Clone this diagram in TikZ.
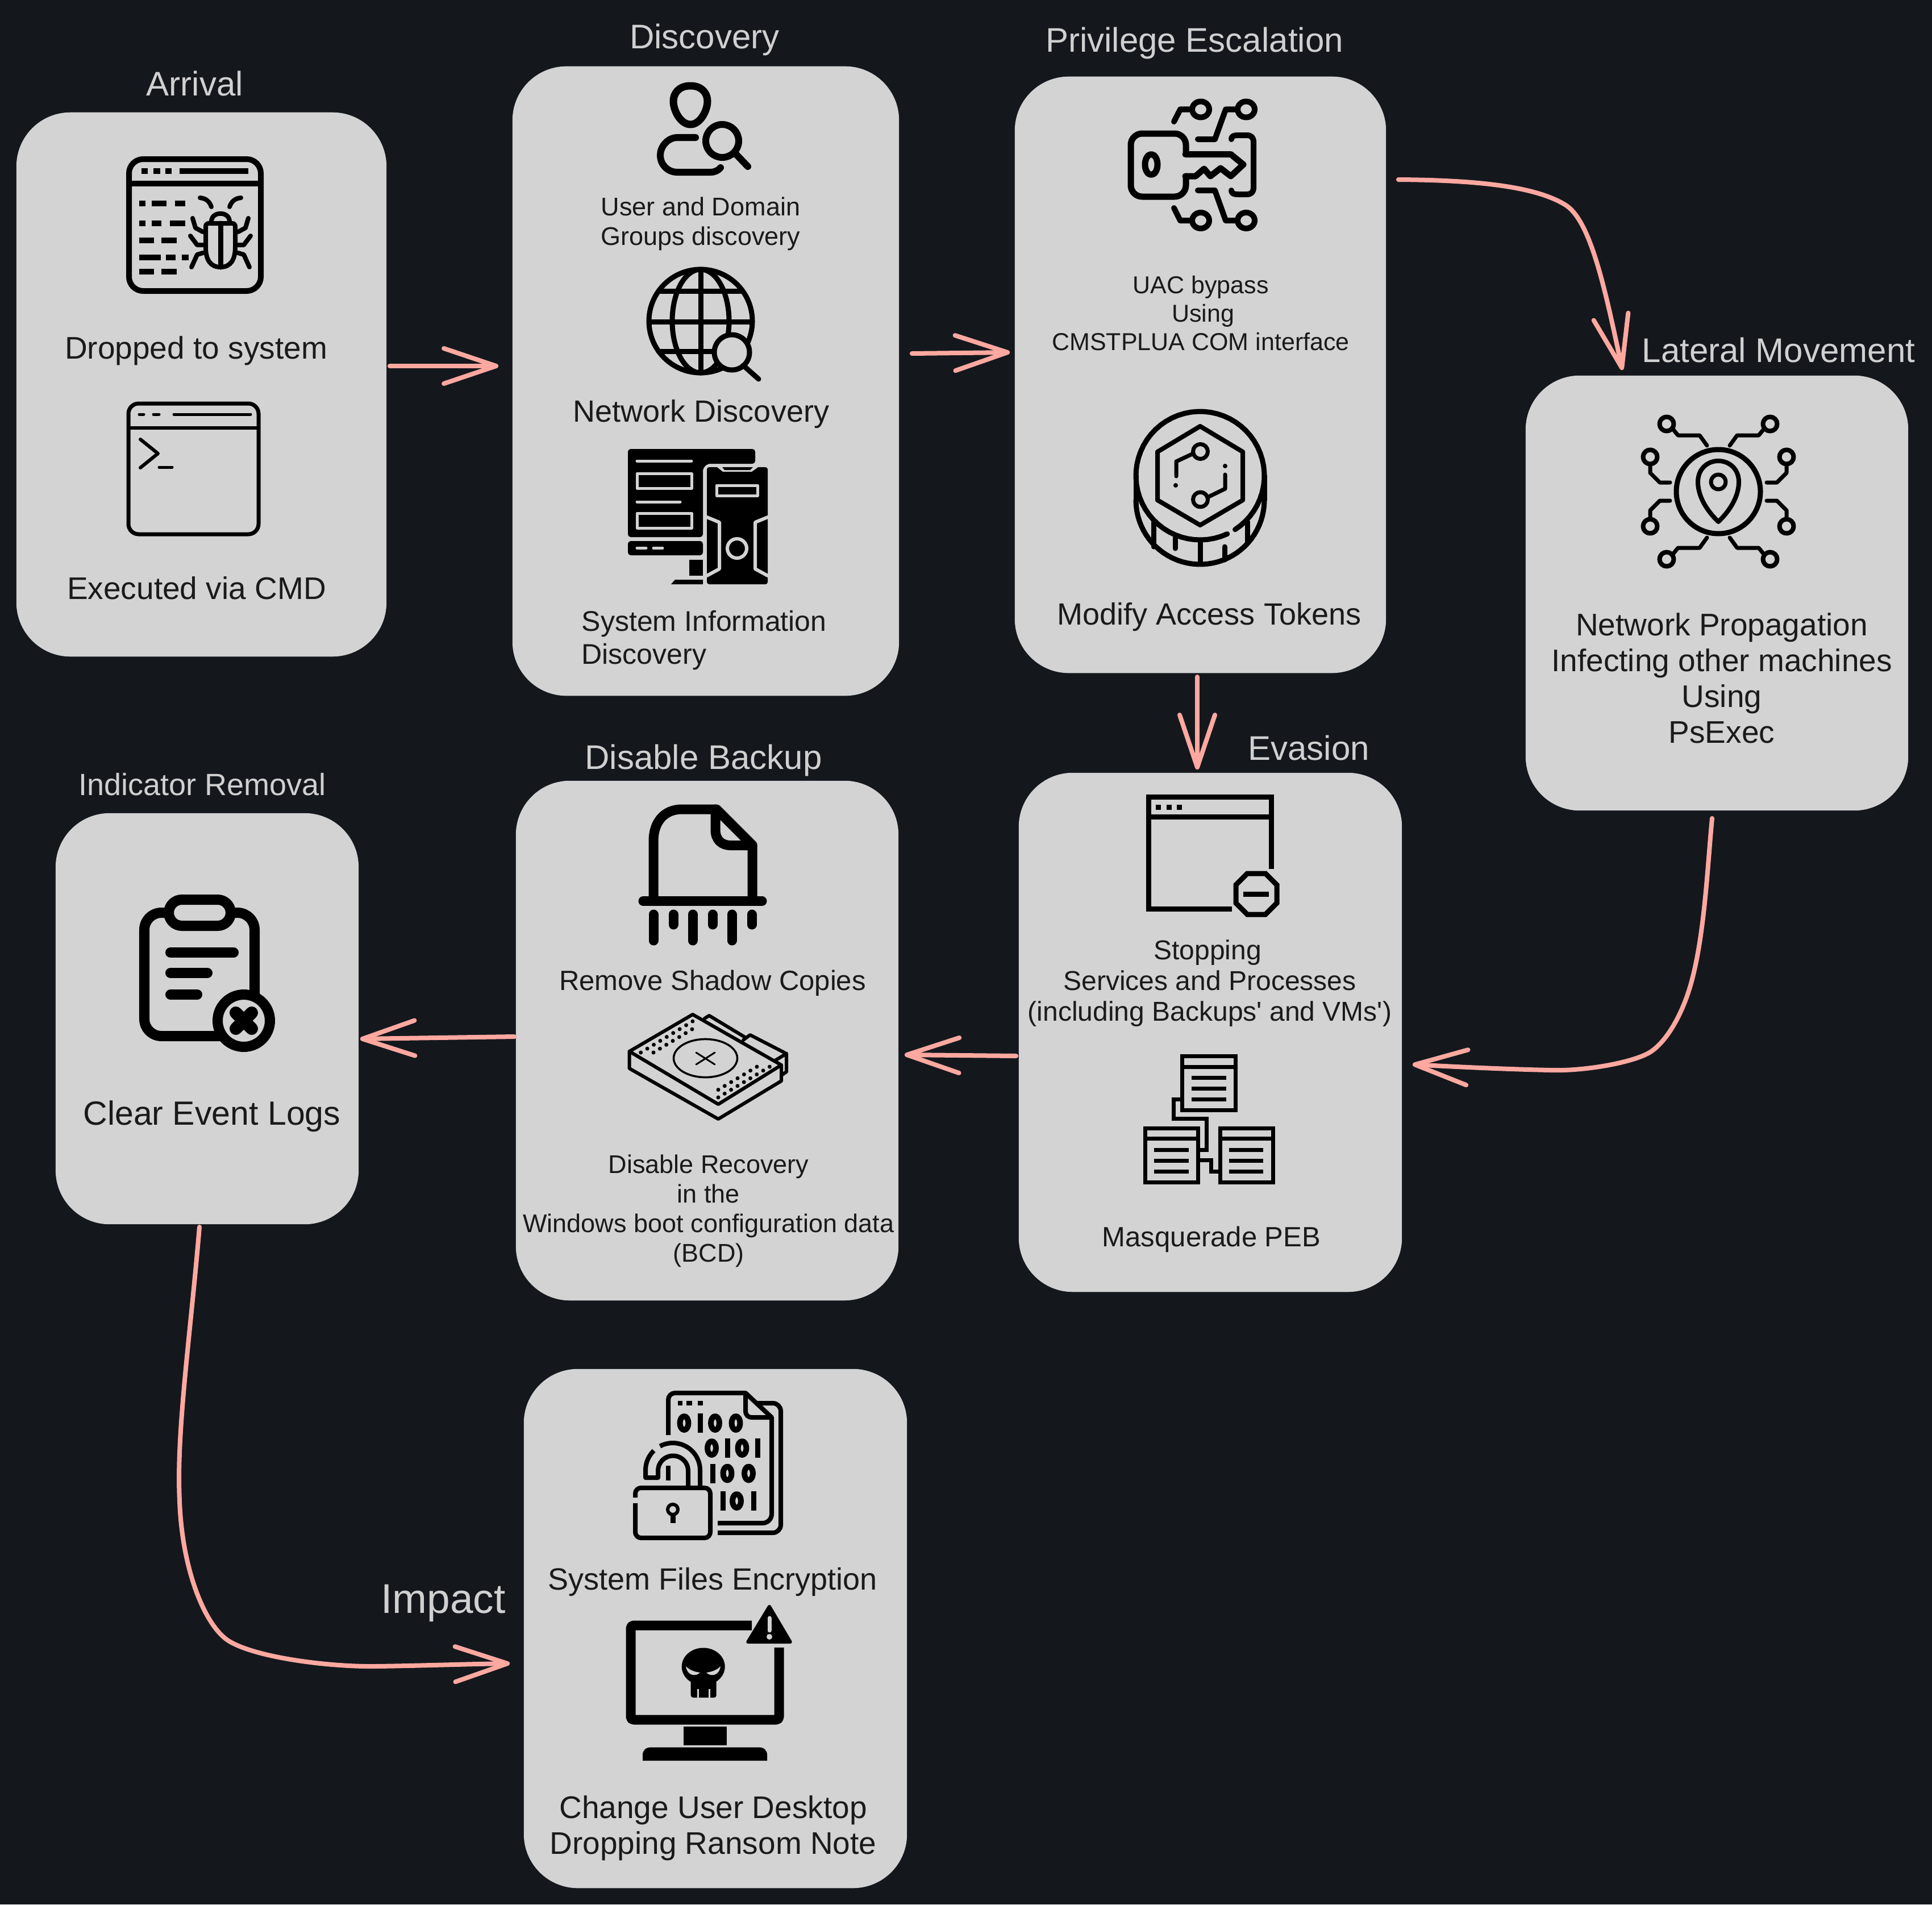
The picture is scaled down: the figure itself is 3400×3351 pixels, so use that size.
\documentclass[tikz,border=0pt]{standalone}
\usepackage{fontspec}
\setmainfont{Liberation Sans}[Ligatures=TeXOff]
\usetikzlibrary{arrows.meta}
\definecolor{pagebg}{HTML}{14181D}
\definecolor{boxgray}{HTML}{D3D3D3}
\definecolor{flowpink}{HTML}{FFA8A0}
\definecolor{bodyink}{HTML}{1A1A1A}
\definecolor{titlegray}{HTML}{D0D0D0}
\newcommand\fsz[2]{\fontsize{\the\dimexpr 0.28453pt*#1\relax}{\the\dimexpr 0.28453pt*#2\relax}\selectfont}
\newcommand\zz[2]{\draw[ink=10] (#1,#2) ellipse [x radius=7.5,y radius=12];}
\newcommand\oo[2]{\fill[black] (#1-4.5,#2-17) rectangle (#1+4.5,#2+17);}
\tikzset{
  x=0.01cm,y=-0.01cm,
  px/.style={line width=#1*0.28453pt},
  rc/.style={rounded corners=#1*0.01cm},
  ink/.style={draw=black,line cap=round,line join=round,px=#1},
  light/.style={draw=boxgray,line cap=round,line join=round,px=#1},
  stage/.style={rectangle,rounded corners=0.95cm,fill=boxgray,draw=none,inner sep=0pt},
  head/.style={text=titlegray,inner sep=0pt,font=\fsz{60}{70}},
  body/.style={text=bodyink,inner sep=0pt,align=center,font=\fsz{54}{63}},
  flow/.style={draw=flowpink,line cap=round,line join=round,px=8,-{Straight Barb[length=0.92cm,width=0.62cm,round]}},
}
\begin{document}
\begin{tikzpicture}
\useasboundingbox (0,0) rectangle (3400,3351);
\fill[pagebg] (0,0) rectangle (3400,3351);

% ---------- stages
\node[stage,minimum width=6.51cm,minimum height=9.57cm] (arrival) at (354.5,676.5) {};
\node[stage,minimum width=6.80cm,minimum height=11.07cm] (discovery) at (1242,670.5) {};
\node[stage,minimum width=6.53cm,minimum height=10.49cm] (privilege) at (2112.5,659.5) {};
\node[stage,minimum width=6.73cm,minimum height=7.65cm] (lateral) at (3021.5,1043.5) {};
\node[stage,minimum width=6.74cm,minimum height=9.13cm] (evasion) at (2130,1816.5) {};
\node[stage,minimum width=6.73cm,minimum height=9.14cm] (backup) at (1244.5,1831) {};
\node[stage,minimum width=5.33cm,minimum height=7.23cm] (indicator) at (364.5,1792.5) {};
\node[stage,minimum width=6.74cm,minimum height=9.13cm] (impact) at (1259,2865.5) {};

% ---------- titles
\node[head] (tArrival) at (343,147) {Arrival};
\node[head] (tDiscovery) at (1240,70) {Discovery};
\node[head] (tPrivilege) at (2102,76) {Privilege Escalation};
\node[head] (tLateral) at (3130,616) {Lateral Movement};
\node[head] (tEvasion) at (2303,1316) {Evasion};
\node[head] (tBackup) at (1238,1338) {Disable Backup};
\node[head,font=\fsz{54}{60}] (tIndicator) at (356,1380) {Indicator Removal};
\node[head,font=\fsz{73}{80}] (tImpact) at (780,2821) {Impact};

% ---------- body texts
\node[body,font=\fsz{55}{63}] (t1) at (345,617) {Dropped to system};
\node[body,font=\fsz{55}{63}] (t2) at (346,1035) {Executed via CMD};
\node[body,font=\fsz{45}{52}] (t3) at (1233,394) {User and Domain\\Groups discovery};
\node[body] (t4) at (1234,729) {Network Discovery};
\node[body,font=\fsz{50}{58},align=left,anchor=west] (t5) at (1023,1127) {System Information\\Discovery};
\node[body,font=\fsz{43}{50}] (t6) at (2113,551) {UAC bypass\\\hspace*{0.08cm}Using\\CMSTPLUA COM interface};
\node[body] (t7) at (2128,1086) {Modify Access Tokens};
\node[body,font=\fsz{55}{63}] (t8) at (3030,1193) {Network Propagation\\Infecting other machines\\Using\\PsExec};
\node[body,font=\fsz{48}{54}] (t9) at (2129,1730) {Stopping\hspace*{0.08cm}\\Services and Processes\\(including Backups' and VMs')};
\node[body,font=\fsz{49}{56}] (t10) at (2132,2181) {Masquerade PEB};
\node[body,font=\fsz{49}{56}] (t11) at (1254,1730) {Remove Shadow Copies};
\node[body,font=\fsz{45}{52}] (t12) at (1247,2131) {Disable Recovery\\in the\\Windows boot configuration data\\(BCD)};
\node[body,font=\fsz{59}{66}] (t13) at (373,1964) {Clear Event Logs};
\node[body,font=\fsz{54}{63}] (t14) at (1254,2783) {System Files Encryption};
\node[body,font=\fsz{55}{63}] (t15) at (1255,3217) {Change User Desktop\\Dropping Ransom Note};

% ---------- connectors
\draw[flow] ([shift={(5,-32.5)}]arrival.east) -- ([shift={(-24,-26.5)}]discovery.west);
\draw[flow] ([shift={(22,-48.5)}]discovery.east) -- ([shift={(-8,-39.5)}]privilege.west);
\draw[flow] ([shift={(21,-343.5)}]privilege.east) .. controls (2600,317) and (2705,328) .. (2757,362) .. controls (2800,392) and (2825,510) .. ([shift={(-166.5,-9)}]lateral.north);
\draw[flow] ([shift={(-5.5,6)}]privilege.south) -- ([shift={(-23,-5)}]evasion.north);
\draw[flow] ([shift={(-8.5,13)}]lateral.south) .. controls (3005,1520) and (3000,1650) .. (2974,1737) .. controls (2958,1790) and (2932,1832) .. (2906,1850) .. controls (2878,1869) and (2790,1885) .. (2728,1883) .. controls (2640,1881) and (2560,1877) .. ([shift={(18,56.5)}]evasion.east);
\draw[flow] ([shift={(-4,41.5)}]evasion.west) -- ([shift={(10,25)}]backup.east);
\draw[flow] ([shift={(-2,-7)}]backup.west) -- ([shift={(2,35.5)}]indicator.east);
\draw[flow] ([shift={(-13.5,4)}]indicator.south) .. controls (335,2350) and (310,2520) .. (316,2640) .. controls (320,2760) and (360,2860) .. (402,2887) .. controls (450,2917) and (580,2933) .. (660,2932) .. controls (740,2931) and (820,2928) .. ([shift={(-24,61.5)}]impact.west);

% ---------- icon: bug window
\draw[ink=10,rc=25] (227,280) rectangle (459,512);
\draw[ink=10] (227,323) -- (459,323);
\begin{scope}[ink=10,line cap=butt]
\draw (249,301)--(260,301) (270,301)--(282,301) (291,301)--(302,301) (316,301)--(437,301);
\draw (245,358)--(256,358) (267,358)--(293,358) (308,358)--(326,358);
\draw (245,392.5)--(256,392.5) (267,392.5)--(284,392.5) (299,392.5)--(326,392.5);
\draw (245,422.6)--(271,422.6) (284,422.6)--(311,422.6);
\draw (245,453)--(283,453) (292,453)--(309,453) (320,453)--(332,453);
\draw (245,477.5)--(271,477.5) (284,477.5)--(311,477.5);
\end{scope}
\draw[ink=8] (362,400) .. controls (362,392) and (366,393) .. (372,393) -- (404,393) .. controls (410,393) and (414,392) .. (414,400) -- (414,435) .. controls (414,458) and (405,470) .. (388,470) .. controls (371,470) and (362,458) .. (362,435) -- cycle;
\draw[ink=8] (372,390) .. controls (372,371) and (404,371) .. (404,390);
\draw[ink=9] (388,393) -- (388,470);
\foreach \sa in {1,-1}{
\begin{scope}[shift={(388,0)},xscale=\sa]
\draw[ink=8] (-16,364) .. controls (-20,352) and (-28,349) .. (-36,348);
\draw[ink=8] (-31,408) -- (-44,401) -- (-49,384);
\draw[ink=8] (-31,431) -- (-41,431) -- (-53,415);
\draw[ink=8] (-31,445) -- (-41,448) -- (-51,470);
\end{scope}}

% ---------- icon: terminal
\draw[ink=7,rc=18] (226,710) rectangle (455,940);
\draw[ink=6] (226,753) -- (455,753);
\draw[ink=5] (245,729)--(253,729) (270,729)--(280,729) (306,729)--(441,729);
\draw[ink=6] (247,773) -- (278,798) -- (247,823);
\draw[ink=5] (280,822) -- (303,822);

% ---------- icon: user search
\draw[ink=13] (1215,151) .. controls (1236,151) and (1245,165) .. (1245,178) .. controls (1245,195) and (1232,219) .. (1215,219) .. controls (1198,219) and (1185,195) .. (1185,178) .. controls (1185,165) and (1194,151) .. (1215,151) -- cycle;
\draw[ink=12] (1224,242) -- (1192,242) .. controls (1175,242) and (1162,258) .. (1162,273) .. controls (1162,290) and (1175,303) .. (1192,303) -- (1250,303) .. controls (1258,303) and (1264,300) .. (1268,295);
\draw[ink=12] (1271,248) circle [radius=29];
\draw[ink=12] (1293,269) -- (1316,293);

% ---------- icon: globe
\draw[ink=9] (1233,565) circle [radius=91];
\draw[ink=9] (1233,565) ellipse [x radius=50,y radius=91];
\draw[ink=9] (1233,474) -- (1233,656);
\draw[ink=9] (1159,512) -- (1307,512) (1142,566) -- (1324,566) (1159,618) -- (1307,618);
\draw[ink=9,fill=boxgray] (1288,620) circle [radius=31];
\draw[ink=9] (1308,643) -- (1335,667);

% ---------- icon: desktop and tower
\fill[black,rc=5] (1105,790) -- (1329,790) -- (1329,816) -- (1245,816) -- (1237,824) -- (1237,945) -- (1105,945) -- cycle;
\fill[black,rc=5] (1105,952) -- (1237,952) -- (1237,977) -- (1105,977) -- cycle;
\fill[black] (1212.5,984.5) rectangle (1237,1013);
\fill[black] (1188,1020) -- (1237,1020) -- (1237,1028) -- (1181,1028) -- cycle;
\draw[light=5] (1121,811) -- (1217,811) (1121,883) -- (1197,883);
\draw[light=5] (1121,833) rectangle (1217,859) (1121,903) rectangle (1217,929);
\draw[light=5] (1121,964.5) -- (1137,964.5) (1150,964.5) -- (1166,964.5);
\fill[black,rc=4] (1244,822) rectangle (1351,1028);
\fill[boxgray] (1262,822) -- (1272,830) -- (1323,830) -- (1334,822) -- cycle;
\fill[black] (1271,822) -- (1275,827) -- (1320,827) -- (1325,822) -- cycle;
\draw[light=5] (1261,854) rectangle (1333,872);
\draw[light=6] (1244,910) -- (1266,919) -- (1266,1001) -- (1244,1013);
\draw[light=6] (1351,910) -- (1329,919) -- (1329,1001) -- (1351,1013);
\draw[light=6] (1297,965) circle [radius=17];

% ---------- icon: key circuit
\draw[ink=11] (2086,271.5) -- (2166,271.5) -- (2188,289.5) -- (2166,310) -- (2148,296) -- (2130,310) -- (2119,297) -- (2104,310) -- (2086,310);
\draw[ink=11,rc=20] (2087,271.5) -- (2087,235) -- (1990,235) -- (1990,346) -- (2087,346) -- (2087,310);
\draw[ink=11] (2026,289.5) ellipse [x radius=11,y radius=18];
\draw[ink=10] (2113,192.5) ellipse [x radius=15,y radius=14];
\draw[ink=10] (2193,192.5) ellipse [x radius=15,y radius=14];
\draw[ink=10] (2113,388) ellipse [x radius=15,y radius=14];
\draw[ink=10] (2193,388) ellipse [x radius=15,y radius=14];
\draw[ink=10] (2098,192.5) -- (2077,192.5) -- (2066,214);
\draw[ink=10] (2178,192.5) -- (2157,192.5) -- (2138,245) -- (2108,245);
\draw[ink=10] (2098,388) -- (2077,388) -- (2066,366);
\draw[ink=10] (2178,388) -- (2157,388) -- (2138,335) -- (2108,335);
\draw[ink=10] (2167,245) .. controls (2167,239) and (2172,238) .. (2180,238) -- (2194,238) .. controls (2202,238) and (2206,242) .. (2206,250) -- (2206,330) .. controls (2206,338) and (2202,342) .. (2194,342) -- (2180,342) .. controls (2172,342) and (2167,341) .. (2167,335);

% ---------- icon: token coin
\draw[ink=9] plot[domain=65:417,samples=60] ({2112+113*cos(\x)},{837+113*sin(\x)});
\draw[ink=9] plot[domain=0:180,samples=40] ({2112+113*cos(\x)},{880+113*sin(\x)});
\draw[ink=9] (1999,837) -- (1999,880) (2225,837) -- (2225,880);
\draw[ink=9] (2030,918) -- (2030,962) (2068,946) -- (2068,965) (2112,950) -- (2112,991) (2155,962) -- (2155,985) (2195,918) -- (2195,956);
\draw[ink=8] (2112,750) -- (2187,795) -- (2187,880) -- (2112,924) -- (2037,880) -- (2037,795) -- cycle;
\draw[ink=7] (2112.5,794.5) circle [radius=13];
\draw[ink=7] (2100,798) -- (2070,812) -- (2070,838);
\fill[black] (2069,854) circle [radius=4];
\draw[ink=7] (2112.5,879) circle [radius=13];
\draw[ink=7] (2125,875) -- (2156,860) -- (2156,835);
\fill[black] (2156,820) circle [radius=4];

% ---------- icon: network location
\draw[ink=9] (3024,865) circle [radius=74];
\draw[ink=8] (3024,918) .. controls (3000,895) and (2988,870) .. (2988,848) .. controls (2988,825) and (3005,811) .. (3024,811) .. controls (3043,811) and (3060,825) .. (3060,848) .. controls (3060,870) and (3048,895) .. (3024,918) -- cycle;
\draw[ink=7] (3024,848) circle [radius=13];
\foreach \sa in {1,-1}{\foreach \sb in {1,-1}{
\begin{scope}[shift={(3024,865)},xscale=\sa,yscale=\sb]
\draw[ink=8] (-91,-119) circle [radius=12.5];
\draw[ink=8] (-120,-61) circle [radius=12.5];
\draw[ink=7] (-80,-110) -- (-71,-99) -- (-33,-99) -- (-20,-81);
\draw[ink=7] (-120,-48) -- (-120,-33) -- (-103,-16) -- (-85,-16);
\end{scope}}}

% ---------- icon: window with stop sign
\draw[ink=9,line cap=butt,line join=miter] (2237.5,1529) -- (2237.5,1402) -- (2021,1402) -- (2021,1599) -- (2168,1599);
\draw[ink=9,line cap=butt] (2021,1437.5) -- (2237.5,1437.5);
\draw[ink=9,line cap=butt] (2034,1420) -- (2043,1420) (2053,1420) -- (2062,1420) (2071,1420) -- (2080,1420);
\draw[ink=9,line join=miter] (2195,1537) -- (2227,1537) -- (2247,1557) -- (2247,1589) -- (2227,1609) -- (2195,1609) -- (2175,1589) -- (2175,1557) -- cycle;
\draw[ink=9,line cap=butt] (2188,1573) -- (2233,1573);

% ---------- icon: masquerade windows
\begin{scope}[ink=7,line cap=butt,line join=miter]
\draw (2080.5,1858) rectangle (2174.5,1953);
\draw (2080.5,1877) -- (2174.5,1877);
\draw (2097,1896) -- (2158,1896) (2097,1915) -- (2158,1915) (2097,1934) -- (2158,1934);
\draw (2015.5,1985) rectangle (2108,2080);
\draw (2015.5,2003) -- (2108,2003);
\draw (2031,2023) -- (2092,2023) (2031,2042) -- (2092,2042) (2031,2061.5) -- (2092,2061.5);
\draw (2147.5,1985) rectangle (2240,2080);
\draw (2147.5,2003) -- (2240,2003);
\draw (2162.5,2023) -- (2223,2023) (2162.5,2042) -- (2223,2042) (2162.5,2061.5) -- (2223,2061.5);
\draw (2077,1934) -- (2065.6,1934) -- (2065.6,1968.5) -- (2123.7,1968.5) -- (2123.7,2023) -- (2111,2023);
\draw (2111,2041) -- (2131,2041) -- (2131,2061.5) -- (2144,2061.5);
\end{scope}

% ---------- icon: shredded file
\draw[ink=17] (1150,1585) -- (1150,1480) .. controls (1150,1445) and (1170,1424) .. (1200,1424) -- (1261,1424) -- (1324,1487) -- (1324,1585);
\draw[ink=17] (1259,1424) -- (1259,1460) .. controls (1259,1478) and (1270,1487.5) .. (1286,1487.5) -- (1324,1487.5);
\draw[ink=17] (1132,1585.5) -- (1341,1585.5);
\draw[ink=17] (1150,1609) -- (1150,1655) (1185,1609) -- (1185,1627) (1219,1609) -- (1219,1655) (1254,1609) -- (1254,1627) (1288,1609) -- (1288,1655) (1323,1609) -- (1323,1627);

% ---------- icon: disk
\draw[ink=6] (1107.6,1850) -- (1219,1785) -- (1375,1874) -- (1264,1943) -- cycle;
\draw[ink=6] (1107.6,1850) -- (1107.6,1880) -- (1264,1969) -- (1375,1902) -- (1375,1874);
\draw[ink=6] (1240,1792) -- (1248,1787) -- (1311,1825);
\draw[ink=6] (1308,1830) -- (1320,1821) -- (1384,1854) -- (1384,1886) -- (1375,1892);
\draw[ink=6] (1384,1854) -- (1364,1866);
\draw[ink=3.5] (1241.5,1862) ellipse [x radius=56,y radius=33.6];
\draw[ink=3] (1225,1852) -- (1258,1873) (1225,1873) -- (1258,1852);
\foreach \i in {0,...,8}{
  \fill[black] (1127.7+11.4*\i,1852-6.87*\i) circle [radius=3.5];
  \fill[black] (1264+11.3*\i,1931-6.75*\i) circle [radius=3.5];
}
\foreach \i in {0,...,6}{
  \fill[black] (1150+11.33*\i,1852-6.83*\i) circle [radius=3.5];
  \fill[black] (1264+11.33*\i,1917.5-6.75*\i) circle [radius=3.5];
}

% ---------- icon: clipboard
\draw[ink=18,rc=30] (297,1606) -- (254,1606) -- (254,1823) -- (400,1823);
\draw[ink=18,rc=30] (406,1606) -- (448,1606) -- (448,1760);
\draw[ink=18,fill=boxgray,rc=23] (297,1583) rectangle (406,1629);
\draw[ink=18] (300,1676) -- (411,1676) (300,1712) -- (365,1712) (300,1750) -- (347,1750);
\draw[ink=18,fill=boxgray] (429,1796) circle [radius=46];
\draw[ink=22] (415,1782) -- (443,1810) (443,1782) -- (415,1810);

% ---------- icon: encrypted file
\draw[ink=8,line cap=butt,rc=12] (1176,2525) -- (1176,2451) -- (1312,2451);
\draw[ink=8,line cap=butt] (1312,2451) -- (1358,2494);
\draw[ink=8,line cap=butt,rc=16] (1358,2494) -- (1358,2680) -- (1263,2680);
\draw[ink=8] (1312,2451) -- (1312,2482) .. controls (1312,2490) and (1316,2494) .. (1324,2494) -- (1358,2494);
\draw[ink=8,line cap=butt,rc=14] (1330,2469) -- (1374,2469) -- (1374,2697) -- (1263,2697);
\draw[ink=8,line cap=butt] (1193,2469) -- (1201,2469) (1208,2469) -- (1218,2469) (1228,2469) -- (1237,2469);
\zz{1204}{2504}\oo{1232.5}{2504}\zz{1258.5}{2504}\zz{1295}{2504}
\zz{1252.5}{2548}\oo{1280}{2548}\zz{1306}{2548}\oo{1333.5}{2548}
\oo{1254}{2592.5}\zz{1280}{2592.5}\zz{1317.5}{2592.5}
\oo{1272.5}{2641}\zz{1296.5}{2641}\oo{1326}{2641}
\draw[ink=8,line cap=butt,rc=10] (1118,2635) -- (1118,2618) -- (1250,2618) -- (1250,2706) -- (1118,2706) -- (1118,2645);
\draw[ink=6] (1184,2656) circle [radius=9];
\fill[black] (1180,2664) rectangle (1189,2680);
\draw[ink=8,line cap=butt] (1232,2614) -- plot[domain=360:242,samples=30] ({1184+48*cos(\x)},{2587+48*sin(\x)});
\draw[ink=8,line cap=butt] plot[domain=226:180,samples=12] ({1184+48*cos(\x)},{2587+48*sin(\x)}) -- (1136,2600) -- (1158,2600) -- plot[domain=180:360,samples=30] ({1184.5+26.5*cos(\x)},{2588+26.5*sin(\x)}) -- (1211,2614);
\fill[black] (1172,2579) rectangle (1180,2605);

% ---------- icon: monitor with skull
\draw[ink=17,line cap=butt,rc=5] (1323,2860) -- (1110,2860) -- (1110,3026) -- (1371,3026) -- (1371,2899);
\fill[black,rc=6] (1354,2821) -- (1396,2892) -- (1311,2892) -- cycle;
\draw[light=7] (1354,2847) -- (1354,2869);
\fill[boxgray] (1354,2880) circle [radius=5];
\fill[black] (1237.7,2932.5) ellipse [x radius=38,y radius=33];
\fill[black,rc=4] (1215.7,2950) rectangle (1260.7,2987);
\draw[draw=boxgray,px=3] (1228,2972) -- (1228,2988) (1248,2972) -- (1248,2988);
\fill[boxgray] (1207,2932) .. controls (1215,2940) and (1225,2942) .. (1232,2943) .. controls (1225,2950) and (1210,2950) .. (1207,2932) -- cycle;
\fill[boxgray] (1268,2932) .. controls (1260,2940) and (1250,2942) .. (1243,2943) .. controls (1250,2950) and (1265,2950) .. (1268,2932) -- cycle;
\fill[black] (1203,3038) rectangle (1279,3071);
\fill[black] (1131,3098) -- (1131,3088) .. controls (1131,3080) and (1136,3074.5) .. (1146,3074.5) -- (1335,3074.5) .. controls (1345,3074.5) and (1350,3080) .. (1350,3088) -- (1350,3098) -- cycle;
\end{tikzpicture}
\end{document}
